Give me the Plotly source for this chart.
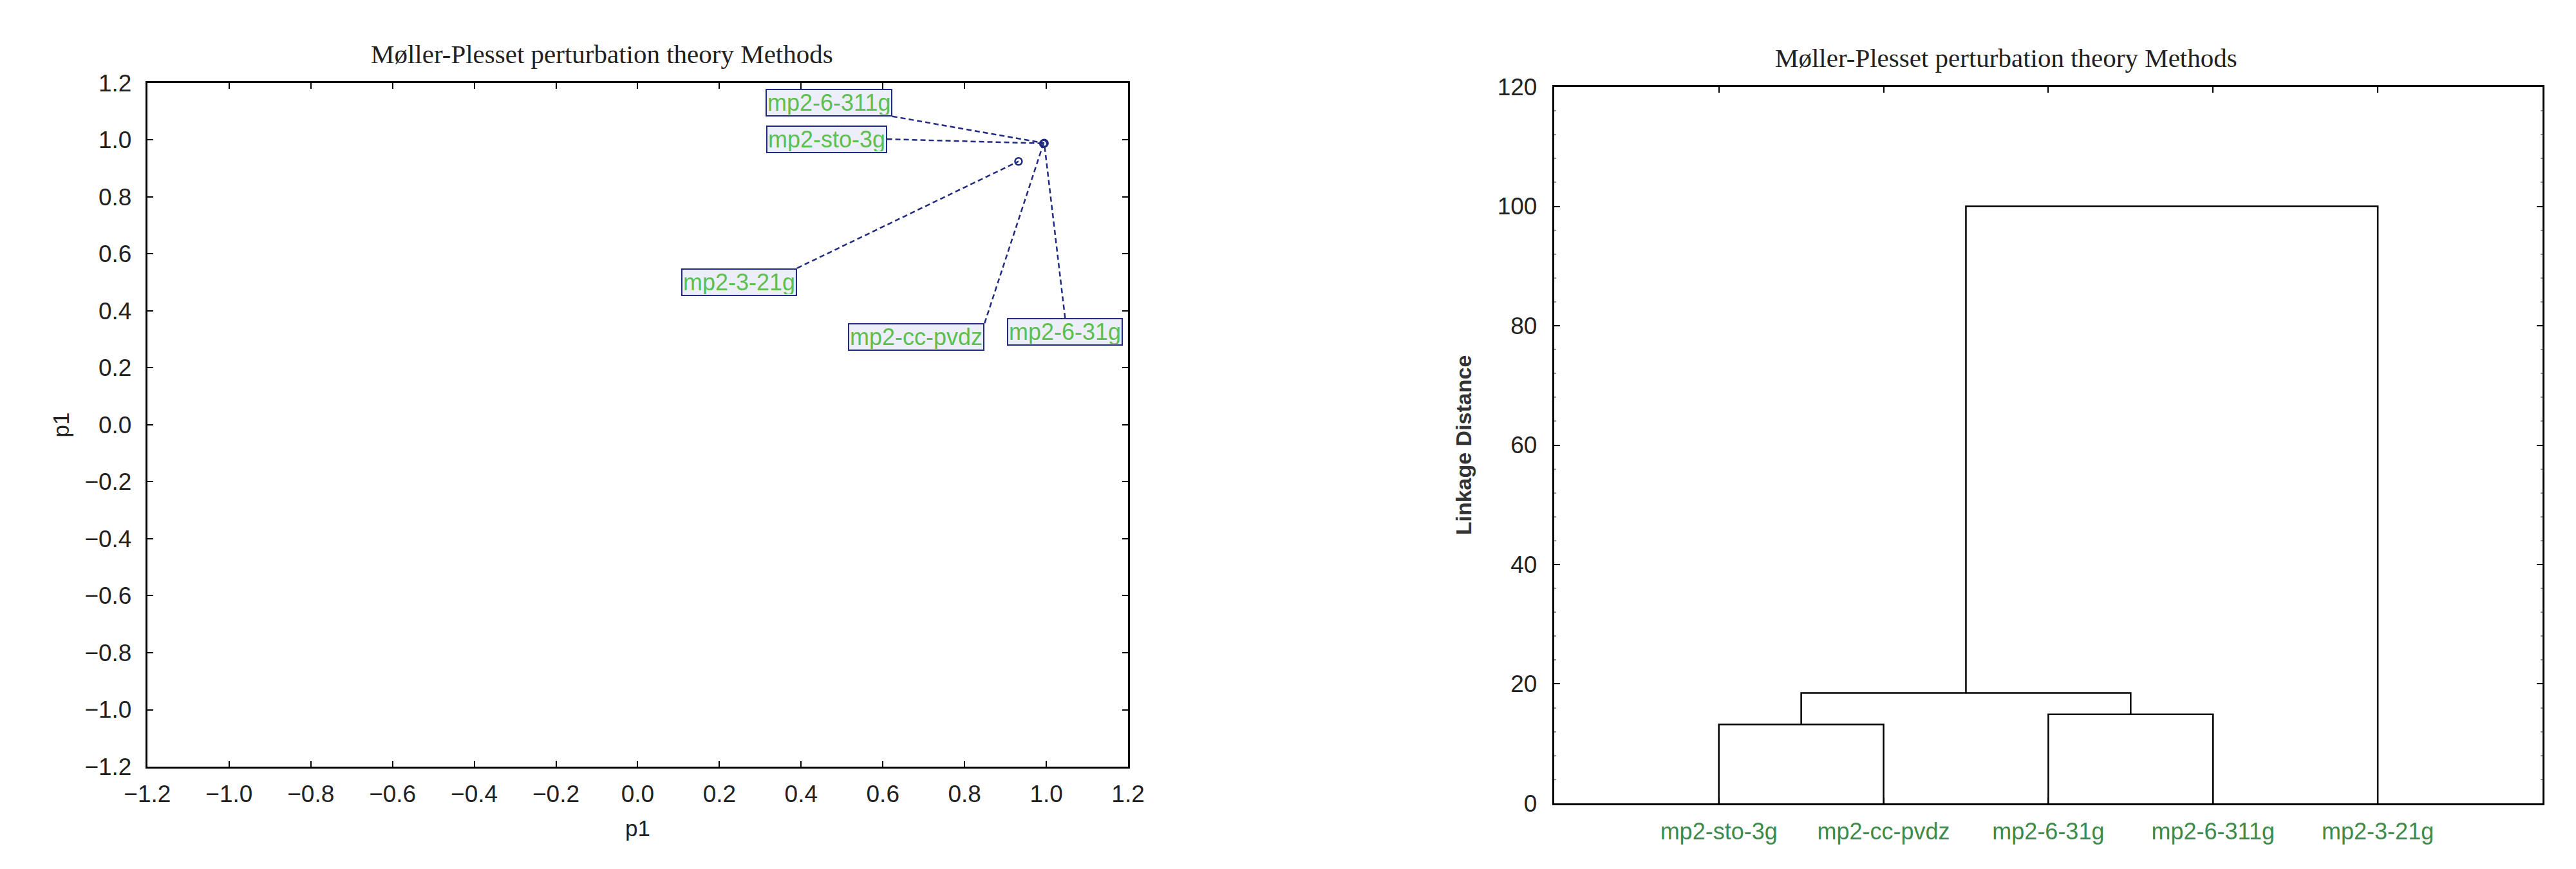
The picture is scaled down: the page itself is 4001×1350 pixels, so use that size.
import plotly.graph_objects as go

# ---- data ----
methods = ["mp2-sto-3g", "mp2-6-311g", "mp2-3-21g", "mp2-cc-pvdz", "mp2-6-31g"]
p1_x = [0.994, 0.995, 0.932, 0.993, 0.995]
p1_y = [0.988, 0.989, 0.925, 0.987, 0.988]

scatter_ticks = [-1.2, -1.0, -0.8, -0.6, -0.4, -0.2, 0.0, 0.2, 0.4, 0.6, 0.8, 1.0, 1.2]

leaf_order = ["mp2-sto-3g", "mp2-cc-pvdz", "mp2-6-31g", "mp2-6-311g", "mp2-3-21g"]
# (left, right, linkage distance); ids < 5 are leaves, ids >= 5 are earlier merges
merges = [(0, 1, 13.2), (2, 3, 14.9), (5, 6, 18.5), (7, 4, 100.0)]
linkage_ticks = [0, 20, 40, 60, 80, 100, 120]

TITLE = "Møller-Plesset perturbation theory Methods"

# where each label box sits (connector end, box anchor)
label_spot = {
    "mp2-6-311g": (0.623, 1.083, "right", "bottom"),
    "mp2-sto-3g": (0.610, 1.003, "right", "middle"),
    "mp2-3-21g": (0.390, 0.550, "right", "top"),
    "mp2-cc-pvdz": (0.849, 0.357, "right", "top"),
    "mp2-6-31g": (1.046, 0.375, "center", "top"),
}

NAVY = "#1f2a80"
SANS = "Liberation Sans, Arial, sans-serif"
SERIF = "Liberation Serif, Times New Roman, serif"

fig = go.Figure()

# dashed connectors from labels to points
cx, cy = [], []
for m, x, y in zip(methods, p1_x, p1_y):
    lx, ly, _, _ = label_spot[m]
    cx += [lx, x, None]
    cy += [ly, y, None]
fig.add_trace(go.Scatter(x=cx, y=cy, mode="lines", xaxis="x", yaxis="y",
                         line=dict(color=NAVY, width=2.5, dash="8px,5px"),
                         hoverinfo="skip", showlegend=False))

fig.add_trace(go.Scatter(x=p1_x, y=p1_y, mode="markers", xaxis="x", yaxis="y",
                         text=methods, showlegend=False,
                         marker=dict(symbol="circle-open", size=11, color=NAVY,
                                     line=dict(width=2.5, color=NAVY))))

for m in methods:
    lx, ly, xa, ya = label_spot[m]
    fig.add_annotation(x=lx, y=ly, xref="x", yref="y", text=m, showarrow=False,
                       xanchor=xa, yanchor=ya, height=37, borderpad=1,
                       bgcolor="#eceffa", bordercolor=NAVY, borderwidth=2,
                       font=dict(family=SANS, size=36, color="#5cbf4e"))

# dendrogram links
pos = {i: i + 1 for i in range(len(leaf_order))}
hgt = {i: 0.0 for i in range(len(leaf_order))}
dx, dy = [], []
for k, (a, b, d) in enumerate(merges):
    node = len(leaf_order) + k
    dx += [pos[a], pos[a], pos[b], pos[b], None]
    dy += [hgt[a], d, d, hgt[b], None]
    pos[node] = (pos[a] + pos[b]) / 2
    hgt[node] = d
fig.add_trace(go.Scatter(x=dx, y=dy, mode="lines", xaxis="x2", yaxis="y2",
                         line=dict(color="black", width=2.5),
                         hoverinfo="skip", showlegend=False))

frame = dict(showline=True, linecolor="black", linewidth=3, mirror="ticks",
             ticks="inside", ticklen=9, tickwidth=2, tickcolor="black",
             showgrid=False, zeroline=False, automargin=False,
             tickfont=dict(family=SANS, size=37, color="#222"))

fig.update_layout(
    width=4001, height=1350,
    margin=dict(l=0, r=0, t=0, b=0),
    paper_bgcolor="white", plot_bgcolor="white",
    xaxis=dict(frame, domain=[0.0552, 0.4359], range=[-1.2, 1.2],
               tickvals=scatter_ticks, tickformat=".1f", anchor="y",
               ticklabelstandoff=8,
               title=dict(text="p1", standoff=22,
                          font=dict(family=SANS, size=35, color="#222"))),
    yaxis=dict(frame, domain=[0.1237, 0.9104], range=[-1.2, 1.2],
               tickvals=scatter_ticks, tickformat=".1f", anchor="x",
               ticklabelstandoff=14,
               title=dict(text="p1", standoff=14,
                          font=dict(family=SANS, size=35, color="#222"))),
    xaxis2=dict(frame, domain=[0.6013, 0.9850], range=[0, len(leaf_order) + 1],
                tickvals=list(range(1, len(leaf_order) + 1)), ticktext=leaf_order,
                anchor="y2", ticklabelstandoff=10,
                tickfont=dict(family=SANS, size=36, color="#3d8b4a")),
    yaxis2=dict(frame, domain=[0.0815, 0.9059], range=[0, 120],
                tickvals=linkage_ticks, anchor="x2", ticklabelstandoff=16,
                minor=dict(dtick=4, ticks="inside", ticklen=3, tickcolor="#999"),
                title=dict(text="<b>Linkage Distance</b>", standoff=30,
                           font=dict(family=SANS, size=34, color="#333"))),
)

fig.add_annotation(x=0.2318, y=0.9437, xref="paper", yref="paper", text=TITLE,
                   xanchor="center", yanchor="middle", showarrow=False,
                   font=dict(family=SERIF, size=41, color="#222"))
fig.add_annotation(x=0.7768, y=0.9393, xref="paper", yref="paper", text=TITLE,
                   xanchor="center", yanchor="middle", showarrow=False,
                   font=dict(family=SERIF, size=41, color="#222"))

fig.write_html("out.html")
